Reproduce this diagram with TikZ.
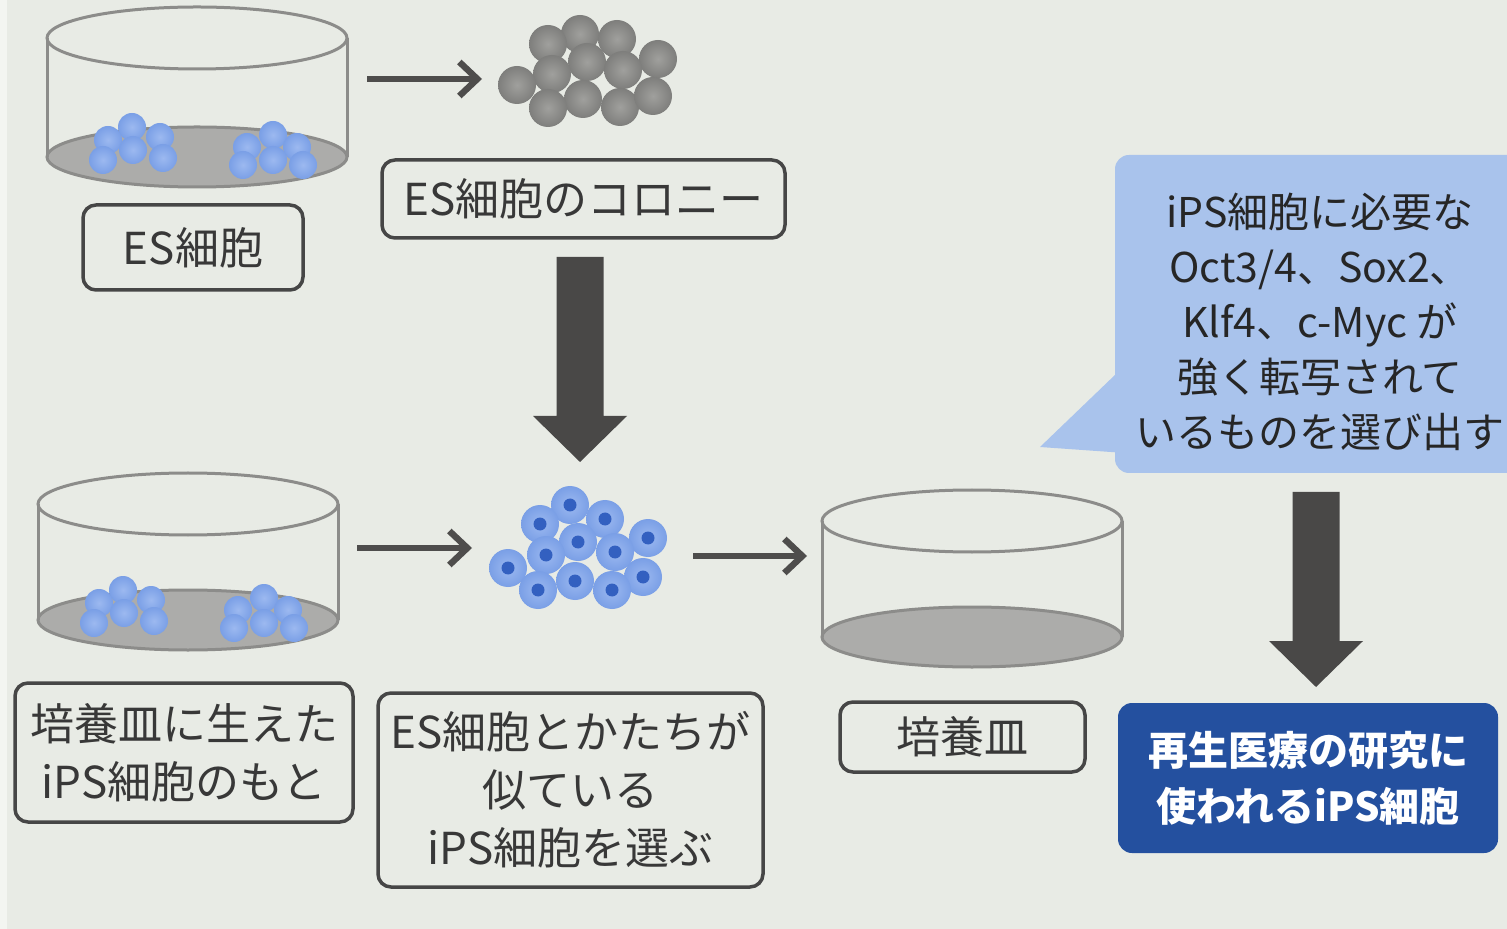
\documentclass[tikz,border=0pt]{standalone}
\usepackage{fontspec}
\newfontfamily\jpfont{Noto Sans CJK JP}
\usetikzlibrary{arrows.meta}

\definecolor{paper}{HTML}{E8EBE5}
\definecolor{paperedge}{HTML}{F3F5F1}
\definecolor{dishline}{HTML}{8C8C8A}
\definecolor{dishfloor}{HTML}{ACACAA}
\definecolor{boxline}{HTML}{464646}
\definecolor{labeltext}{HTML}{383838}
\definecolor{arrowgray}{HTML}{4E4D4C}
\definecolor{blockgray}{HTML}{494847}
\definecolor{cellblue}{HTML}{7A9FE6}
\definecolor{cellbluehi}{HTML}{9CB9F0}
\definecolor{nucleus}{HTML}{3360C0}
\definecolor{cellgray}{HTML}{7E7E7C}
\definecolor{cellgrayhi}{HTML}{A0A09D}
\definecolor{noteblue}{HTML}{A9C3EC}
\definecolor{goalblue}{HTML}{24509F}

\begin{document}
\begin{tikzpicture}[x=0.5pt,y=-0.5pt,
  labelbox/.style={draw=boxline, line width=1.75pt, rounded corners=6.5pt,
    align=center, inner sep=0pt, text=labeltext,
    font=\jpfont\fontsize{22}{29}\selectfont},
  thinarrow/.style={draw=arrowgray, line width=3.2pt,
    -{Straight Barb[length=9pt,width=17pt]}},
  dishstroke/.style={draw=dishline, line width=1.5pt},
  pics/petri/.style={code={
    \filldraw[dishstroke, fill=dishfloor] (0,#1) ellipse [x radius=150, y radius=30];
    \draw[dishstroke] (-150,0) -- (-150,#1) (150,0) -- (150,#1);
    \draw[dishstroke] (0,0) ellipse [x radius=150, y radius=31];
  }},
  pics/dishcell/.style={code={
    \shade[inner color=cellbluehi, outer color=cellblue] (0,0) circle [radius=14];
  }},
  pics/graycell/.style={code={
    \shade[inner color=cellgrayhi, outer color=cellgray] (0,0) circle [radius=19];
  }},
  pics/bluecell/.style={code={
    \shade[inner color=cellbluehi, outer color=cellblue] (0,0) circle [radius=19];
    \fill[nucleus] (0,0) circle [radius=6.5];
  }},
  pics/seed/.style={code={
    \foreach \p in {(-65,-30),(-89,-17),(-37,-20),(-64,-7),(-94,3),(-34,1),
                    (76,-22),(50,-10),(100,-10),(76,3),(46,8),(106,8)}
      \pic at \p {dishcell};
  }},
  pics/downarrow/.style={code={
    \fill[blockgray] (-23.5,0) -- (23.5,0) -- (23.5,#1-46) -- (47,#1-46)
      -- (0,#1) -- (-47,#1-46) -- (-23.5,#1-46) -- cycle;
  }}]

\useasboundingbox (0,0) rectangle (1507,929);
\clip (0,0) rectangle (1507,929);
\fill[paper] (0,0) rectangle (1507,929);
\fill[paperedge] (0,0) rectangle (7,929);

% --- ES cells in a dish (top left) ---
\pic at (197,38) {petri=119};
\pic at (197,157) {seed};
\node[labelbox, minimum width=110pt, minimum height=42.5pt] (es) at (193,247.5) {ES細胞};

% --- ES colony (gray cells) ---
\foreach \p in {(580,34),(548,44),(617,39),(587,62),(552,74),(658,59),(623,70),
                (517,85),(583,99),(548,108),(620,107),(653,96)}
  \pic at \p {graycell};
\node[labelbox, minimum width=201.5pt, minimum height=39pt] (colony) at (583.5,199) {ES細胞のコロニー};

\coordinate (a1s) at (367,79);
\coordinate (a1e) at (482,79);
\draw[thinarrow] (a1s) -- (a1e);

% --- selection arrow ---
\coordinate (down1) at (580,257);
\pic at (down1) {downarrow=205};

% --- iPS seeds in a dish (bottom left) ---
\pic at (188,504) {petri=116};
\pic at (188,620) {seed};
\node[labelbox, minimum width=169pt, minimum height=69.5pt] (seedlabel) at (184,752.5)
  {培養皿に生えた\\iPS細胞のもと};

\coordinate (a2s) at (357,548);
\coordinate (a2e) at (472,548);
\draw[thinarrow] (a2s) -- (a2e);

% --- selected iPS colony (blue cells with nuclei) ---
\foreach \p in {(570,505),(605,519),(540,524),(648,538),(578,542),(615,552),
                (546,555),(508,568),(643,577),(575,581),(538,590),(612,590)}
  \pic at \p {bluecell};
\node[labelbox, minimum width=192.5pt, minimum height=97pt] (select) at (570.5,790)
  {ES細胞とかたちが\\似ている\\iPS細胞を選ぶ};

\coordinate (a3s) at (693,556);
\coordinate (a3e) at (807,556);
\draw[thinarrow] (a3s) -- (a3e);

% --- empty culture dish ---
\pic at (972,521) {petri=116};
\node[labelbox, minimum width=122.5pt, minimum height=35pt] (dish) at (962.5,737) {培養皿};

% --- callout about transcription factors ---
\node[fill=noteblue, rounded corners=7pt, minimum width=205pt, minimum height=159pt,
      inner sep=0pt] (note) at (1320,314) {};
\coordinate (tip) at (1040,447);
\fill[noteblue] ([xshift=1pt,yshift=50pt]note.south west) -- (tip)
  -- ([xshift=1pt,yshift=10.5pt]note.south west) -- cycle;
\node[align=center, inner sep=0pt, text=black!85,
      font=\jpfont\fontsize{20.5}{27.6}\selectfont] (notetext) at (1320,322)
  {iPS細胞に必要な\\Oct3/4、Sox2、\\Klf4、c-Myc が\\強く転写されて\\いるものを選び出す};

\coordinate (down2) at (1316,492);
\pic at (down2) {downarrow=195};

% --- result ---
\node[fill=goalblue, rounded corners=7pt, minimum width=190pt, minimum height=75pt,
      align=center, inner sep=0pt, text=white,
      font=\jpfont\bfseries\fontsize{20}{28}\selectfont] (goal) at (1308,778)
  {再生医療の研究に\\使われるiPS細胞};

\end{tikzpicture}
\end{document}
